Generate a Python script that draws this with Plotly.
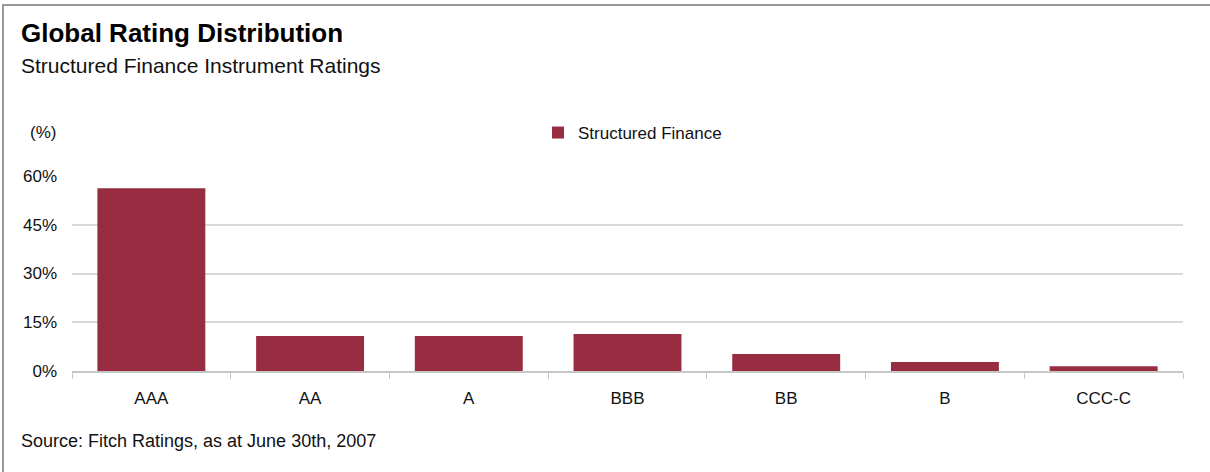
import plotly.graph_objects as go

categories = ["AAA", "AA", "A", "BBB", "BB", "B", "CCC-C"]
values = [56.2, 10.8, 10.8, 11.4, 5.2, 2.8, 1.5]
series_name = "Structured Finance"
y_ticks = [0, 15, 30, 45, 60]
y_tick_labels = ["0%", "15%", "30%", "45%", "60%"]

W, H = 1210, 472
L, R, T, B = 72, 27, 176, 101
pw, ph = W - L - R, H - T - B

def px(x):
    return (x - L) / pw

def py(y):
    return (H - B - y) / ph

FONT = "Liberation Sans, Arial, sans-serif"
BAR = "#982C41"
TXT = "#111111"

fig = go.Figure(go.Bar(
    x=categories, y=values, name=series_name,
    marker=dict(color=BAR, line=dict(width=0)),
    showlegend=True,
))

fig.update_layout(
    width=W, height=H,
    margin=dict(l=L, r=R, t=T, b=B, autoexpand=False),
    paper_bgcolor="white", plot_bgcolor="white",
    font=dict(family=FONT, color=TXT, size=17),
    bargap=0.32,
    showlegend=True,
    legend=dict(orientation="h", x=px(538), y=py(133), xanchor="left", yanchor="middle",
                font=dict(size=17, family=FONT, color=TXT),
                itemwidth=30, bgcolor="rgba(0,0,0,0)"),
    xaxis=dict(
        showline=True, linecolor="#c6c6c6", linewidth=1.5,
        ticks="outside", tickson="boundaries", ticklen=6, tickcolor="#c6c6c6", tickwidth=1,
        showgrid=False, tickfont=dict(size=17, family=FONT, color=TXT),
        ticklabelstandoff=11,
    ),
    yaxis=dict(
        range=[0, 60], tickvals=y_ticks, ticktext=y_tick_labels,
        showgrid=True, gridcolor="#d9d9d9", gridwidth=1.5,
        zeroline=False, showline=False, ticks="",
        tickfont=dict(size=17, family=FONT, color=TXT),
        ticklabelstandoff=14,
    ),
    annotations=[
        dict(text="<b>Global Rating Distribution</b>", x=px(19), y=py(33), xref="paper", yref="paper",
             xanchor="left", yanchor="middle", showarrow=False, font=dict(size=26, family=FONT, color="#000000")),
        dict(text="Structured Finance Instrument Ratings", x=px(19), y=py(65), xref="paper", yref="paper",
             xanchor="left", yanchor="middle", showarrow=False, font=dict(size=21, family=FONT, color=TXT)),
        dict(text="(%)", x=px(58), y=py(133), xref="paper", yref="paper",
             xanchor="right", yanchor="middle", showarrow=False, font=dict(size=17, family=FONT, color=TXT)),
        dict(text="Source: Fitch Ratings, as at June 30th, 2007", x=px(19), y=py(441), xref="paper", yref="paper",
             xanchor="left", yanchor="middle", showarrow=False, font=dict(size=18, family=FONT, color=TXT)),
    ],
    shapes=[
        dict(type="line", xref="paper", yref="paper", x0=px(3), x1=px(1212), y0=py(5), y1=py(5),
             line=dict(color="#999999", width=2)),
        dict(type="line", xref="paper", yref="paper", x0=px(3), x1=px(3), y0=py(4), y1=py(474),
             line=dict(color="#999999", width=2)),
    ],
)

fig.write_html(
    "out.html",
    config={"displayModeBar": False},
    post_script="document.body.style.margin='0';document.body.style.overflow='hidden';",
)
